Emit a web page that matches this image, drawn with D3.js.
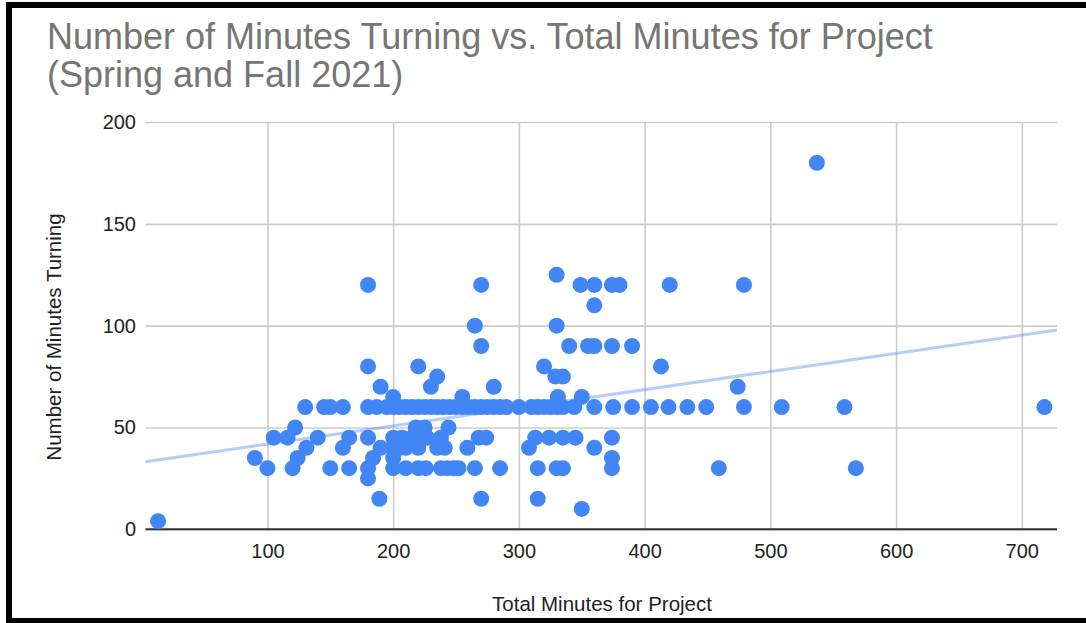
<!DOCTYPE html>
<html>
<head>
<meta charset="utf-8">
<script src="https://cdn.jsdelivr.net/npm/d3@7"></script>
<style>
  body { margin: 0; background: #fff; }
  text { font-family: "Liberation Sans", Arial, sans-serif; }
</style>
</head>
<body>
<div id="chart"></div>
<script>
// total minutes for project (x) - rows grouped by turning level
var totalMinutes = [
  537,
  330,
  180, 270, 349, 360, 374, 380, 420, 479,
  360,
  265, 330,
  270, 340, 355, 360, 374, 390,
  180, 220, 320, 413,
  235, 329, 335,
  190, 230, 280, 474,
  200, 255, 331, 350,
  130, 145, 150, 160, 180, 187, 195, 200, 205, 210,
  215, 220, 225, 230, 235, 240, 245, 250, 255, 260,
  265, 270, 275, 280, 285, 290, 300, 310, 315, 320,
  325, 330, 335, 344, 360, 375, 390, 405, 419, 434,
  449, 479, 509, 559, 718,
  122, 218, 225, 244,
  105, 116, 140, 165, 180, 200, 207, 215, 222, 227, 238, 268, 274, 313, 324, 335, 345, 374,
  131, 160, 190, 200, 205, 210, 220, 235, 241, 259, 308, 360,
  90, 124, 184, 200, 374,
  100, 120, 150, 165, 180, 200, 210, 220, 226, 238, 243, 248, 252, 265, 285, 315, 330, 335, 374, 459, 568,
  180,
  189, 270, 315,
  350,
  13
];
// number of minutes turning (y) - same order as above
var turningMinutes = [
  180,
  125,
  120, 120, 120, 120, 120, 120, 120, 120,
  110,
  100, 100,
  90, 90, 90, 90, 90, 90,
  80, 80, 80, 80,
  75, 75, 75,
  70, 70, 70, 70,
  65, 65, 65, 65,
  60, 60, 60, 60, 60, 60, 60, 60, 60, 60,
  60, 60, 60, 60, 60, 60, 60, 60, 60, 60,
  60, 60, 60, 60, 60, 60, 60, 60, 60, 60,
  60, 60, 60, 60, 60, 60, 60, 60, 60, 60,
  60, 60, 60, 60, 60,
  50, 50, 50, 50,
  45, 45, 45, 45, 45, 45, 45, 45, 45, 45, 45, 45, 45, 45, 45, 45, 45, 45,
  40, 40, 40, 40, 40, 40, 40, 40, 40, 40, 40, 40,
  35, 35, 35, 35, 35,
  30, 30, 30, 30, 30, 30, 30, 30, 30, 30, 30, 30, 30, 30, 30, 30, 30, 30, 30, 30, 30,
  25,
  15, 15, 15,
  10,
  4
];

var xTicks = [100, 200, 300, 400, 500, 600, 700];
var yTicks = [0, 50, 100, 150, 200];

// linear trendline
var trendSlope = 0.0892;
var trendIntercept = 32.9;

var width = 1086, height = 623;
var plotLeft = 145.5, plotRight = 1057, plotTop = 122, plotBottom = 529.3;

var svg = d3.select("#chart").append("svg")
  .attr("width", width)
  .attr("height", height);

var x = d3.scaleLinear().domain([3, 728]).range([plotLeft, plotRight]);
var y = d3.scaleLinear().domain([0, 200]).range([plotBottom, plotTop]);

// y gridlines + labels
var yAxis = svg.append("g")
  .attr("transform", "translate(" + plotLeft + ",0)")
  .call(d3.axisLeft(y).tickValues(yTicks).tickSize(-(plotRight - plotLeft)).tickPadding(9.5));
yAxis.select(".domain").remove();
yAxis.selectAll("line").attr("stroke", "#cccccc").attr("stroke-width", 1.6);
yAxis.selectAll("text").attr("font-size", 20).attr("fill", "#222").style("font-family", "Liberation Sans, Arial, sans-serif");

// x gridlines + labels
var xAxis = svg.append("g")
  .attr("transform", "translate(0," + plotBottom + ")")
  .call(d3.axisBottom(x).tickValues(xTicks).tickSize(-(plotBottom - plotTop)).tickPadding(14.5));
xAxis.select(".domain").remove();
xAxis.selectAll("line").attr("stroke", "#cccccc").attr("stroke-width", 1.6);
xAxis.selectAll("text").attr("font-size", 20).attr("fill", "#222").style("font-family", "Liberation Sans, Arial, sans-serif");

// baseline
svg.append("line")
  .attr("x1", plotLeft).attr("x2", plotRight)
  .attr("y1", y(0)).attr("y2", y(0))
  .attr("stroke", "#333")
  .attr("stroke-width", 2);

// trendline
var trendLine = d3.line()
  .x(function(d){ return x(d); })
  .y(function(d){ return y(trendIntercept + trendSlope * d); });
svg.append("path")
  .datum(x.domain())
  .attr("d", trendLine)
  .attr("fill", "none")
  .attr("stroke", "#4285f4")
  .attr("stroke-opacity", 0.4)
  .attr("stroke-width", 3);

// points
svg.append("g").selectAll("circle")
  .data(totalMinutes)
  .enter()
  .append("circle")
  .attr("cx", function(d){ return x(d); })
  .attr("cy", function(d, i){ return y(turningMinutes[i]); })
  .attr("r", 8)
  .attr("fill", "#4285f4");

// titles
svg.append("text")
  .attr("x", 47).attr("y", 49)
  .attr("font-size", 36)
  .attr("fill", "#757575")
  .text("Number of Minutes Turning vs. Total Minutes for Project");
svg.append("text")
  .attr("x", 47).attr("y", 87)
  .attr("font-size", 36)
  .attr("fill", "#757575")
  .text("(Spring and Fall 2021)");

svg.append("text")
  .attr("x", 602).attr("y", 611)
  .attr("text-anchor", "middle")
  .attr("font-size", 20.5)
  .attr("fill", "#222")
  .text("Total Minutes for Project");

svg.append("text")
  .attr("transform", "translate(61,337) rotate(-90)")
  .attr("text-anchor", "middle")
  .attr("font-size", 20.5)
  .attr("fill", "#222")
  .text("Number of Minutes Turning");

// black frame from the screenshot
svg.append("rect").attr("x", 6).attr("y", 2).attr("width", 6).attr("height", 621).attr("fill", "#000");
svg.append("rect").attr("x", 6).attr("y", 2).attr("width", width - 6).attr("height", 6).attr("fill", "#000");
svg.append("rect").attr("x", 6).attr("y", 618).attr("width", width - 6).attr("height", 5).attr("fill", "#000");
</script>
</body>
</html>
